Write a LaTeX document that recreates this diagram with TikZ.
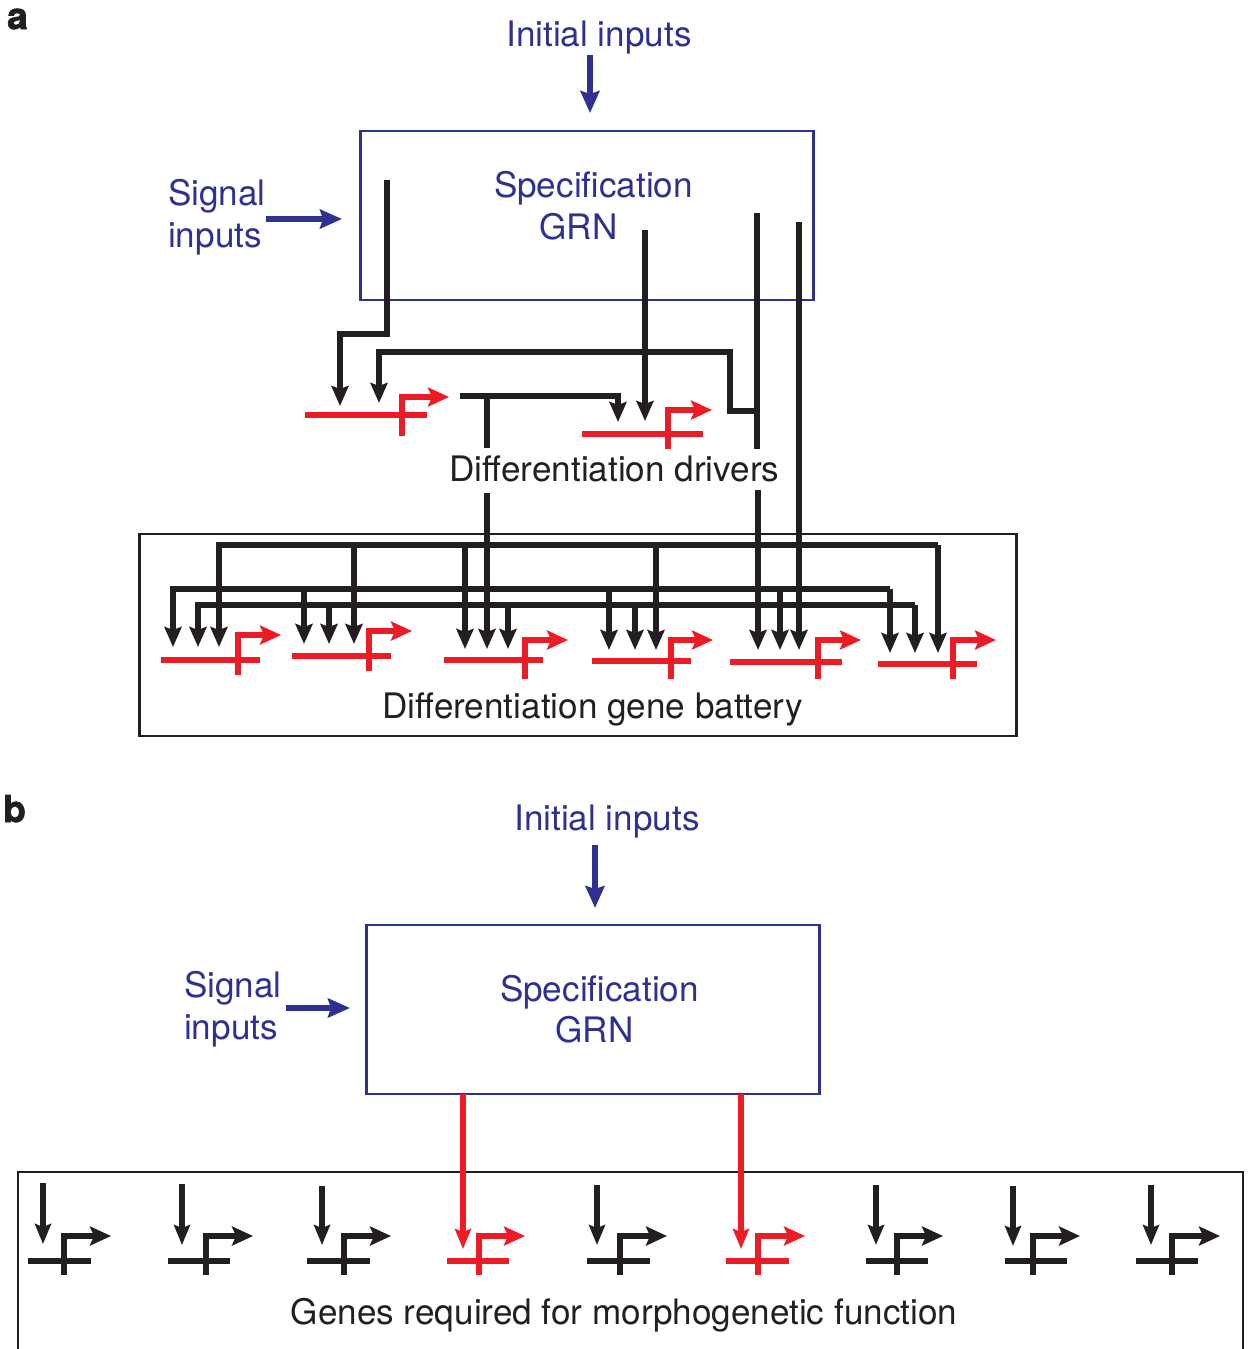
\documentclass[tikz,border=0pt]{standalone}
\usepackage{fontspec}
\setmainfont{TeX Gyre Heros}
\newfontfamily\panelfont[FakeBold=2]{TeX Gyre Heros Bold}
\usetikzlibrary{arrows.meta}
\definecolor{gblue}{HTML}{2E3192}
\definecolor{gred}{HTML}{ED1C24}
\definecolor{gblack}{HTML}{231F20}
\tikzset{
  x=1pt,y=-1pt,
  wire/.style={draw=gblack,line width=5.2pt,miter limit=10},
  arrowwire/.style={wire,-{Stealth[length=20pt,width=17pt,inset=3pt]}},
  smallwire/.style={draw=gblack,line width=5.1pt,-{Stealth[length=20pt,width=16pt,inset=3pt]}},
  redwire/.style={draw=gred,line width=5.1pt,-{Stealth[length=20pt,width=16pt,inset=3pt]}},
  bluewire/.style={draw=gblue,line width=5.2pt,-{Stealth[length=22pt,width=19pt,inset=3pt]}},
  bluebox/.style={draw=gblue,line width=2.6pt},
  blackbox/.style={draw=gblack,line width=2.6pt},
  bluetext/.style={text=gblue,font=\fontsize{35.1}{36}\selectfont,inner sep=0pt,anchor=base},
  blacktext/.style={text=gblack,font=\fontsize{35.1}{36}\selectfont,inner sep=0pt,anchor=base},
  paneltext/.style={text=gblack,font=\fontsize{37}{38}\panelfont,inner sep=0pt,anchor=base west},
  genestroke/.style={line width=5.2pt},
}
% \gene{colour}{x0}{x1}{y}{stem x}{bottom}{top}{tip}
\newcommand{\gene}[8]{%
  \draw[genestroke,draw=#1] (#2,#4) -- (#3,#4);
  \draw[genestroke,draw=#1,miter limit=10,-{Stealth[length=21pt,width=19pt,inset=4pt]}] (#5,#6) -- (#5,#7) -- (#8,#7);
}
\begin{document}
\begin{tikzpicture}
\useasboundingbox (0,0) rectangle (1249,1349);
% ---------- panel a
\node[paneltext] (pa) at (7,29) {a};
\node[bluetext] (ia) at (599,46) {Initial inputs};
\node[bluetext,anchor=base west] (sa1) at (168,205) {Signal};
\node[bluetext,anchor=base west] (sa2) at (168,247) {inputs};
\node[bluebox,minimum width=453pt,minimum height=169pt,inner sep=0pt,outer sep=0pt,anchor=north west] (ga0) at (360.5,131) {};
\node[bluetext] (spa) at (593.5,197) {Specification};
\node[bluetext] (ga) at (578.5,239) {GRN};
\node[blacktext] (dd) at (614.5,481) {Differentiation drivers};
\node[blackbox,minimum width=877pt,minimum height=202pt,inner sep=0pt,outer sep=0pt,anchor=north west] (dbbox) at (139.5,534) {};
\node[blacktext] (db) at (592.5,718) {Differentiation gene battery};
\coordinate (ia0) at (590,55); \coordinate (ia1) at (590,113);
\coordinate (sa0) at (266,219); \coordinate (sa1e) at (342,219);
\draw[bluewire] (ia0) -- (ia1);
\draw[bluewire] (sa0) -- (sa1e);

% buses
\coordinate (busA) at (0,545);
\coordinate (busB) at (0,589);
\coordinate (busC) at (0,605);
% arrow tips
\coordinate (t1) at (173,647); \coordinate (t2) at (198,647); \coordinate (t3) at (219,647);
\coordinate (t4) at (304,644); \coordinate (t5) at (329,644); \coordinate (t6) at (354,644);
\coordinate (t7) at (465,649); \coordinate (t8) at (487,649); \coordinate (t9) at (508,649);
\coordinate (t10) at (609,650); \coordinate (t11) at (635,650); \coordinate (t12) at (656,650);
\coordinate (t13) at (758,650); \coordinate (t14) at (780,650); \coordinate (t15) at (799,650);
\coordinate (t16) at (890,653); \coordinate (t17) at (915,653); \coordinate (t18) at (938,653);
% bus A
\draw[arrowwire] (t18 |- busA) -- (t3 |- busA) -- (t3);
\draw[arrowwire] (t18 |- busA) -- (t18);
\foreach \t in {t6,t7,t12} \draw[arrowwire] (\t |- busA) -- (\t);
% bus B
\draw[arrowwire] (t16 |- busB) -- (t1 |- busB) -- (t1);
\draw[arrowwire] (t16 |- busB) -- (t16);
\foreach \t in {t4,t10,t14} \draw[arrowwire] (\t |- busB) -- (\t);
% bus C
\draw[arrowwire] (t17 |- busC) -- (t2 |- busC) -- (t2);
\draw[arrowwire] (t17 |- busC) -- (t17);
\foreach \t in {t5,t9,t11} \draw[arrowwire] (\t |- busC) -- (\t);
% long verticals
\coordinate (s8) at (487,493); \coordinate (s13) at (758,490); \coordinate (s15) at (799,222);
\draw[arrowwire] (s8) -- (t8);
\draw[arrowwire] (s13) -- (t13);
\draw[arrowwire] (s15) -- (t15);
% upper wiring
\coordinate (u1) at (387,180); \coordinate (u2) at (387,334); \coordinate (u3) at (340,334); \coordinate (u4) at (340,406);
\draw[arrowwire] (u1) -- (u2) -- (u3) -- (u4);
\coordinate (v0) at (757,213); \coordinate (v1) at (757,449);
\draw[wire] (v0) -- (v1);
\coordinate (w0) at (757,411); \coordinate (w1) at (730,411); \coordinate (w2) at (730,352); \coordinate (w3) at (379,352); \coordinate (w4) at (379,403);
\draw[arrowwire] (w0) -- (w1) -- (w2) -- (w3) -- (w4);
\coordinate (x0) at (460,396); \coordinate (x1) at (618,396); \coordinate (x2) at (618,422);
\draw[arrowwire] (x0) -- (x1) -- (x2);
\coordinate (x3) at (487,396); \coordinate (x4) at (487,448);
\draw[wire] (x3) -- (x4);
\coordinate (y0) at (645,230); \coordinate (y1) at (645,421);
\draw[arrowwire] (y0) -- (y1);
% red genes, panel a
\gene{gred}{305}{427}{415}{402}{436}{397}{449}
\gene{gred}{582}{703}{434}{668}{449}{410}{712}
\gene{gred}{161}{260}{660}{238}{675}{635}{281}
\gene{gred}{292}{391}{656}{369}{671}{631}{412}
\gene{gred}{444}{543}{660}{525}{679}{640}{568}
\gene{gred}{592}{691}{661}{671}{679}{640}{713}
\gene{gred}{730}{842}{662}{818}{679}{640}{861}
\gene{gred}{878}{977}{664}{953}{679}{640}{996}

% ---------- panel b
\node[paneltext] (pb) at (3,822) {b};
\node[bluetext] (ib) at (607,830) {Initial inputs};
\node[bluetext,anchor=base west] (sb1) at (184,997) {Signal};
\node[bluetext,anchor=base west] (sb2) at (184,1039) {inputs};
\node[bluebox,minimum width=453pt,minimum height=169pt,inner sep=0pt,outer sep=0pt,anchor=north west] (gb) at (366.5,925) {};
\node[bluetext] (spb) at (599.5,1001) {Specification};
\node[bluetext] (gnb) at (594.5,1042) {GRN};
\coordinate (ib0) at (595,845); \coordinate (ib1) at (595,908);
\coordinate (sb0) at (286,1008); \coordinate (sb1e) at (350,1008);
\draw[bluewire] (ib0) -- (ib1);
\draw[bluewire] (sb0) -- (sb1e);
\draw[blackbox] (18,1351) -- (18,1172) -- (1243,1172) -- (1243,1351);
\node[blacktext] (gr) at (624,1324) {Genes required for morphogenetic function};
\coordinate (r1) at (463,1249); \coordinate (r2) at (741,1249);
\draw[redwire] (r1 |- gb.south) -- (r1);
\draw[redwire] (r2 |- gb.south) -- (r2);
\foreach \x/\a/\b in {43/1183/1244,182/1184/1245,322/1186/1245,597/1185/1245,876/1185/1245,1013/1186/1246,1151/1185/1245}
  \draw[smallwire] (\x,\a) -- (\x,\b);
\gene{gblack}{28}{91}{1261}{64}{1275}{1236}{111}
\gene{gblack}{168}{230}{1261}{206}{1275}{1236}{253}
\gene{gblack}{307}{370}{1261}{344}{1275}{1236}{391}
\gene{gred}{447}{509}{1261}{479}{1275}{1236}{525}
\gene{gblack}{587}{650}{1261}{620}{1275}{1236}{667}
\gene{gred}{726}{789}{1261}{758}{1275}{1236}{805}
\gene{gblack}{866}{928}{1261}{897}{1275}{1236}{943}
\gene{gblack}{1005}{1067}{1261}{1033}{1275}{1236}{1080}
\gene{gblack}{1136}{1198}{1261}{1172}{1275}{1236}{1220}
\end{tikzpicture}
\end{document}
